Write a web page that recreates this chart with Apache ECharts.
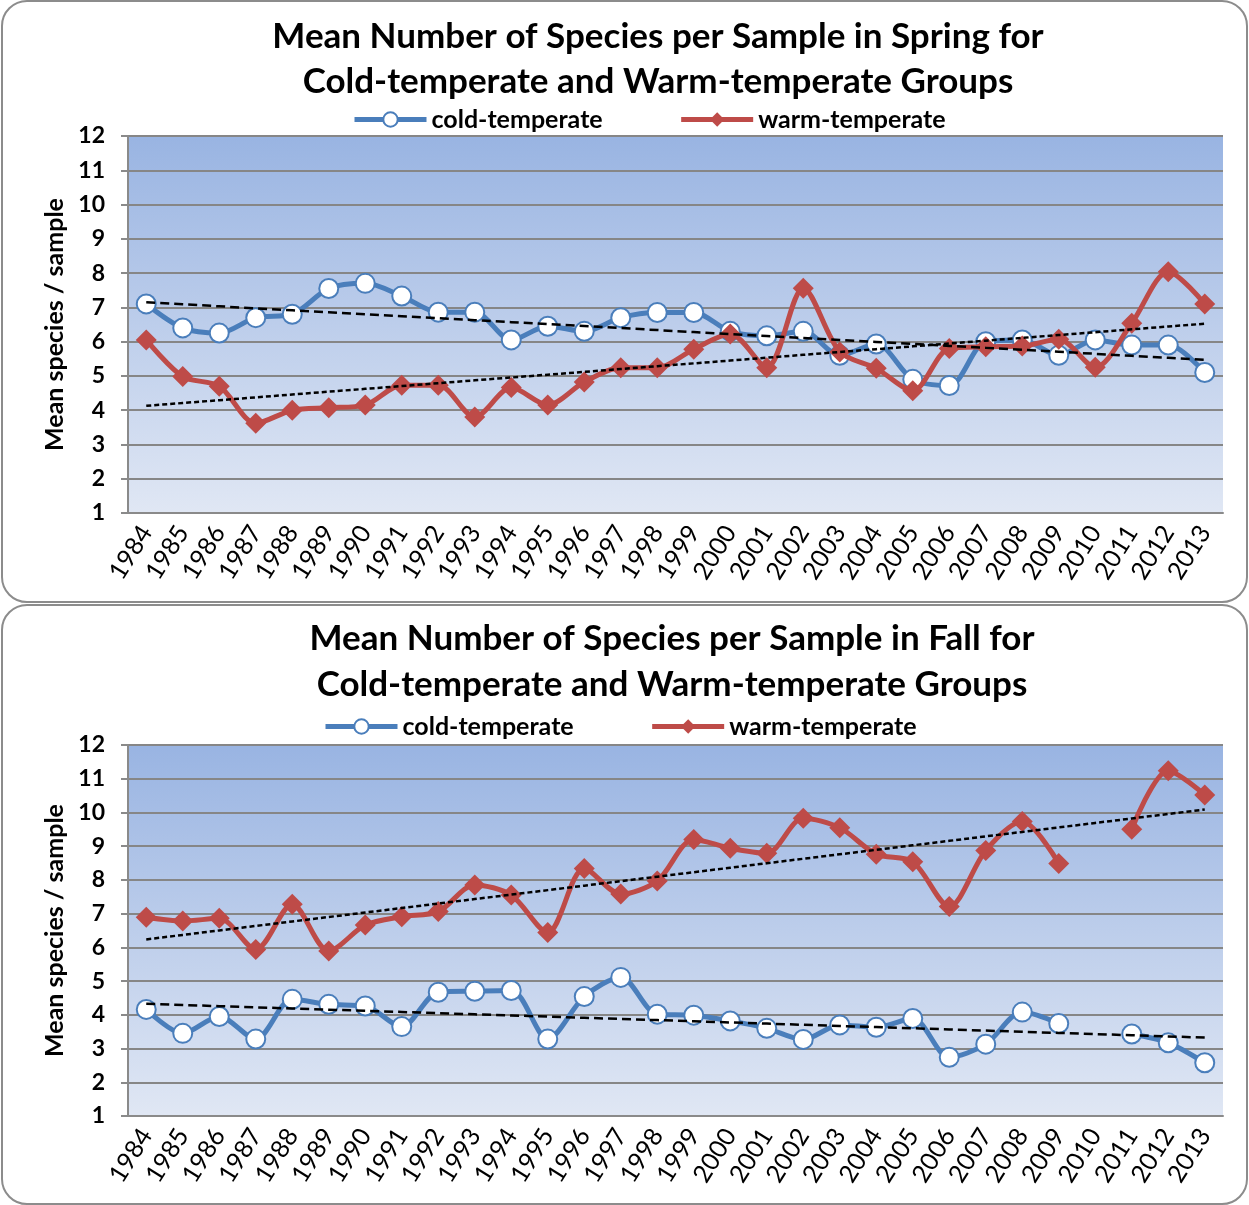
<!DOCTYPE html>
<html>
<head>
<meta charset="utf-8">
<script src="https://cdn.jsdelivr.net/npm/echarts@6/dist/echarts.min.js"></script>
<style>
  body { margin: 0; background: #fff; }
  .box { position: absolute; left: 1px; width: 1247px; box-sizing: border-box;
         border: 2px solid #8c8c8c; border-radius: 26px; background: #fff; overflow: hidden; }
  #spring { top: 0; height: 603px; }
  #fall { top: 604px; height: 601px; }
  .chart { width: 100%; height: 100%; }
</style>
</head>
<body>
<div class="box" id="spring"><div class="chart" id="springChart"></div></div>
<div class="box" id="fall"><div class="chart" id="fallChart"></div></div>
<script>
const years = ['1984','1985','1986','1987','1988','1989','1990','1991','1992','1993',
  '1994','1995','1996','1997','1998','1999','2000','2001','2002','2003',
  '2004','2005','2006','2007','2008','2009','2010','2011','2012','2013'];

const yTicks = [1,2,3,4,5,6,7,8,9,10,11,12];

const springCold = [7.1,6.4,6.25,6.7,6.8,7.55,7.7,7.33,6.86,6.86,
  6.05,6.45,6.3,6.7,6.85,6.85,6.3,6.17,6.3,5.6,
  5.93,4.9,4.72,6.0,6.05,5.6,6.05,5.9,5.9,5.1];
const springWarm = [6.05,4.98,4.7,3.62,4.0,4.07,4.15,4.73,4.73,3.8,
  4.66,4.15,4.82,5.24,5.24,5.78,6.22,5.24,7.56,5.7,
  5.22,4.57,5.8,5.85,5.87,6.07,5.25,6.54,8.04,7.1];

const fallCold = [4.16,3.45,3.95,3.28,4.46,4.31,4.26,3.65,4.67,4.7,
  4.72,3.28,4.54,5.11,4.02,3.99,3.82,3.6,3.27,3.7,
  3.63,3.89,2.74,3.13,4.08,3.74,null,3.43,3.17,2.58];
const fallWarm = [6.89,6.78,6.86,5.94,7.28,5.89,6.66,6.91,7.06,7.85,
  7.55,6.44,8.34,7.58,7.97,9.2,8.94,8.79,9.83,9.55,
  8.76,8.54,7.21,8.87,9.73,8.49,null,9.5,11.24,10.52];

// linear trendline like Excel's, fitted on the points that exist
function trend(vals) {
  let n = 0, sx = 0, sy = 0, sxx = 0, sxy = 0;
  vals.forEach((v, i) => {
    if (v == null) return;
    n++; sx += i; sy += v; sxx += i * i; sxy += i * v;
  });
  const b = (n * sxy - sx * sy) / (n * sxx - sx * sx);
  const a = (sy - b * sx) / n;
  return vals.map((v, i) => +(a + b * i).toFixed(3));
}

const blue = '#4A7EBB';
const red = '#BE4B48';
const font = 'Lato, "Open Sans", sans-serif';

function makeChart(el, cfg) {
  const chart = echarts.init(el, null, { renderer: 'canvas' });
  chart.setOption({
    animation: false,
    textStyle: { fontFamily: font },
    graphic: [{
      type: 'text', x: cfg.titleX, y: cfg.titleY,
      style: {
        text: cfg.title, font: 'bold 35px ' + font, fill: '#000',
        textAlign: 'center', textVerticalAlign: 'top', lineHeight: cfg.titleLH
      }
    }],
    legend: {
      data: ['cold-temperate', 'warm-temperate'],
      left: cfg.legendLeft, top: cfg.legendTop,
      itemWidth: 72, itemHeight: 18, itemGap: 76,
      lineStyle: { width: 5 },
      textStyle: { fontSize: 25, fontWeight: 'bold', color: '#000', fontFamily: font }
    },
    grid: {
      left: 125, top: cfg.gridTop, width: 1095, height: cfg.gridH,
      show: true, borderWidth: 0,
      backgroundColor: new echarts.graphic.LinearGradient(0, 0, 0, 1, [
        { offset: 0, color: '#99B4E2' },
        { offset: 1, color: '#E0E7F4' }
      ])
    },
    xAxis: {
      type: 'category', data: years, boundaryGap: true,
      axisLine: { lineStyle: { color: '#8a8a8a', width: 2 } },
      axisTick: { length: 8, lineStyle: { color: '#8a8a8a', width: 2 } },
      axisLabel: { interval: 0, rotate: 58, fontSize: 25, color: '#000', margin: 15, fontFamily: font },
      splitLine: { show: false }
    },
    yAxis: {
      type: 'value', min: 1, max: 12, interval: 1,
      name: 'Mean species / sample', nameLocation: 'middle', nameGap: 58,
      nameTextStyle: { fontSize: 25, fontWeight: 'bold', color: '#000', fontFamily: font },
      axisLine: { show: true, lineStyle: { color: '#8a8a8a', width: 2 } },
      axisTick: { show: true, length: 7, lineStyle: { color: '#8a8a8a', width: 2 } },
      axisLabel: { fontSize: 23, fontWeight: 'bold', color: '#000', margin: 23, fontFamily: font },
      splitLine: { lineStyle: { color: '#868686', width: 2 } }
    },
    series: [
      {
        name: 'cold-temperate', type: 'line', data: cfg.cold, smooth: 0.3,
        connectNulls: false, symbol: 'circle', symbolSize: 19,
        lineStyle: { color: blue, width: 5 },
        itemStyle: { color: '#fff', borderColor: blue, borderWidth: 2 },
        z: 3
      },
      {
        name: 'warm-temperate', type: 'line', data: cfg.warm, smooth: 0.3,
        connectNulls: false, symbol: 'diamond', symbolSize: 21,
        lineStyle: { color: red, width: 5 },
        itemStyle: { color: red },
        z: 4
      },
      {
        name: 'cold trend', type: 'line', data: trend(cfg.cold), symbol: 'none',
        lineStyle: { color: '#000', width: 2.5, type: [9, 5] }, z: 5, silent: true
      },
      {
        name: 'warm trend', type: 'line', data: trend(cfg.warm), symbol: 'none',
        lineStyle: { color: '#000', width: 2.5, type: [5, 3] }, z: 5, silent: true
      }
    ]
  });
  return chart;
}

makeChart(document.getElementById('springChart'), {
  title: 'Mean Number of Species per Sample in Spring for\nCold-temperate and Warm-temperate Groups',
  titleX: 655, titleY: 12, titleLH: 45,
  legendLeft: 344, legendTop: 100,
  gridTop: 134, gridH: 377,
  cold: springCold, warm: springWarm
});

makeChart(document.getElementById('fallChart'), {
  title: 'Mean Number of Species per Sample in Fall for\nCold-temperate and Warm-temperate Groups',
  titleX: 669, titleY: 10, titleLH: 46,
  legendLeft: 315, legendTop: 103,
  gridTop: 139, gridH: 371,
  cold: fallCold, warm: fallWarm
});
</script>
</body>
</html>
